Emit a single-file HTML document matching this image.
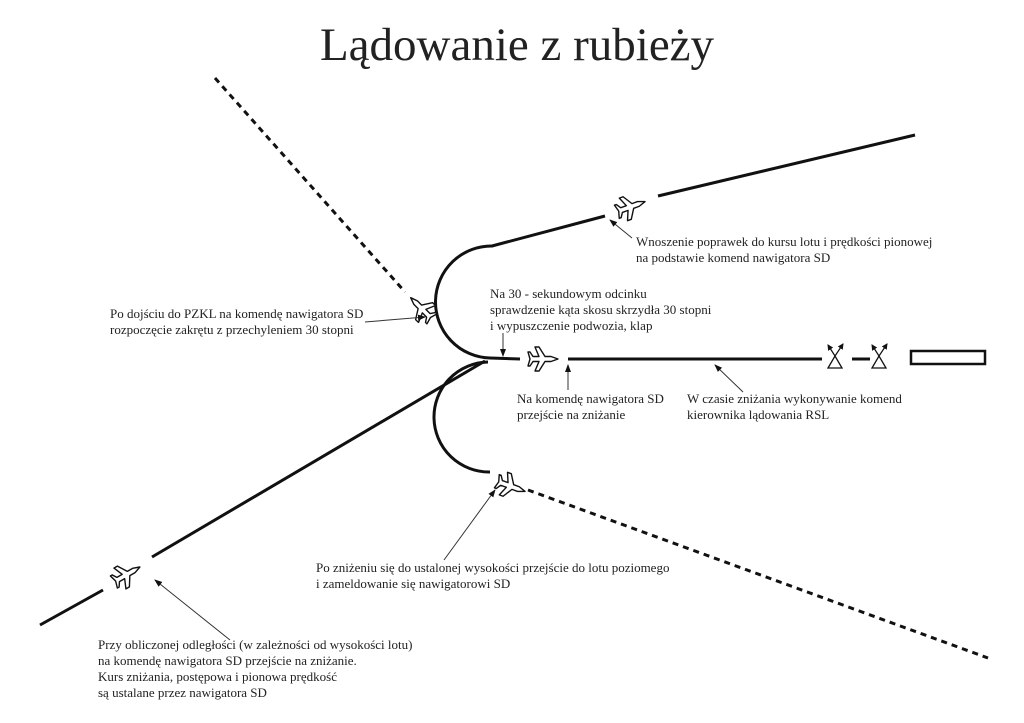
<!DOCTYPE html>
<html><head><meta charset="utf-8"><style>
html,body{margin:0;padding:0;background:#fff;}
svg{display:block;}
text{font-family:"Liberation Serif",serif;fill:#222;}
</style></head><body>
<svg width="1024" height="723" viewBox="0 0 1024 723" xmlns="http://www.w3.org/2000/svg">
<defs>
<path id="pl" d="M16,0 L9,-2.5 L3,-2.5 L-3,-12 L-7,-12 L-3,-2.5 L-9,-2.5 L-12,-7 L-14,-7 L-12,0 L-14,7 L-12,7 L-9,2.5 L-3,2.5 L-7,12 L-3,12 L3,2.5 L9,2.5 Z" fill="#fff" stroke="#111" stroke-width="1.4" stroke-linejoin="round"/>
<marker id="ar" markerWidth="8" markerHeight="8" refX="7" refY="4" orient="auto" markerUnits="userSpaceOnUse"><path d="M0,1 L8,4 L0,7 Z" fill="#111"/></marker>
<marker id="ar2" markerWidth="6" markerHeight="6" refX="5" refY="3" orient="auto" markerUnits="userSpaceOnUse"><path d="M0,0 L6,3 L0,6 Z" fill="#111"/></marker>
</defs>
<text x="517" y="60" font-size="47" text-anchor="middle">Lądowanie z rubieży</text>
<g stroke="#111" fill="none" stroke-width="3">
<line x1="215" y1="78" x2="405" y2="292" stroke-dasharray="6,5"/>
<path d="M493,246 A56,56 0 0 0 490,358 L520,359"/>
<line x1="492" y1="246" x2="605" y2="216"/>
<line x1="658" y1="196" x2="915" y2="135"/>
<line x1="568" y1="359" x2="822" y2="359"/>
<line x1="852" y1="359" x2="870" y2="359"/>
<rect x="911" y="351" width="74" height="13" stroke-width="2.5"/>
<line x1="40" y1="625" x2="103" y2="590"/>
<line x1="152" y1="557" x2="485" y2="361"/>
<path d="M488,362 A55,55 0 0 0 490,472"/>
<line x1="528" y1="490" x2="988" y2="658" stroke-dasharray="6,5"/>
</g>
<g stroke="#111" stroke-width="1.3" fill="#fff">
<path d="M828,368 L835,356 L842,368 Z"/>
<path d="M872,368 L879,356 L886,368 Z"/>
</g>
<g stroke="#111" stroke-width="1.2" fill="none" marker-end="url(#ar2)">
<line x1="835" y1="356" x2="828" y2="345"/>
<line x1="835" y1="356" x2="843" y2="344"/>
<line x1="879" y1="356" x2="872" y2="345"/>
<line x1="879" y1="356" x2="887" y2="344"/>
</g>
<use href="#pl" transform="translate(422,309) rotate(225)"/>
<use href="#pl" transform="translate(542,359)"/>
<use href="#pl" transform="translate(630,207) rotate(-20)"/>
<use href="#pl" transform="translate(510,486) rotate(20)"/>
<use href="#pl" transform="translate(126,575) rotate(-30)"/>
<g stroke="#333" stroke-width="1" fill="none" marker-end="url(#ar)">
<line x1="365" y1="322" x2="425" y2="317"/>
<line x1="503" y1="333" x2="503" y2="356"/>
<line x1="568" y1="390" x2="568" y2="365"/>
<line x1="632" y1="238" x2="610" y2="220"/>
<line x1="743" y1="392" x2="715" y2="365"/>
<line x1="444" y1="560" x2="495" y2="490"/>
<line x1="230" y1="640" x2="155" y2="580"/>
</g>
<g font-size="13">
<text x="110" y="318">Po dojściu do PZKL na komendę nawigatora SD</text>
<text x="110" y="334">rozpoczęcie zakrętu z przechyleniem 30 stopni</text>
<text x="490" y="298">Na 30 - sekundowym odcinku</text>
<text x="490" y="314">sprawdzenie kąta skosu skrzydła 30 stopni</text>
<text x="490" y="330">i wypuszczenie podwozia, klap</text>
<text x="636" y="246">Wnoszenie poprawek do kursu lotu i prędkości pionowej</text>
<text x="636" y="262">na podstawie komend nawigatora SD</text>
<text x="517" y="403">Na komendę nawigatora SD</text>
<text x="517" y="419">przejście na zniżanie</text>
<text x="687" y="403">W czasie zniżania wykonywanie komend</text>
<text x="687" y="419">kierownika lądowania RSL</text>
<text x="316" y="572">Po zniżeniu się do ustalonej wysokości przejście do lotu poziomego</text>
<text x="316" y="588">i zameldowanie się nawigatorowi SD</text>
<text x="98" y="649">Przy obliczonej odległości (w zależności od wysokości lotu)</text>
<text x="98" y="665">na komendę nawigatora SD przejście na zniżanie.</text>
<text x="98" y="681">Kurs zniżania, postępowa i pionowa prędkość</text>
<text x="98" y="697">są ustalane przez nawigatora SD</text>
</g>
</svg>
</body></html>
